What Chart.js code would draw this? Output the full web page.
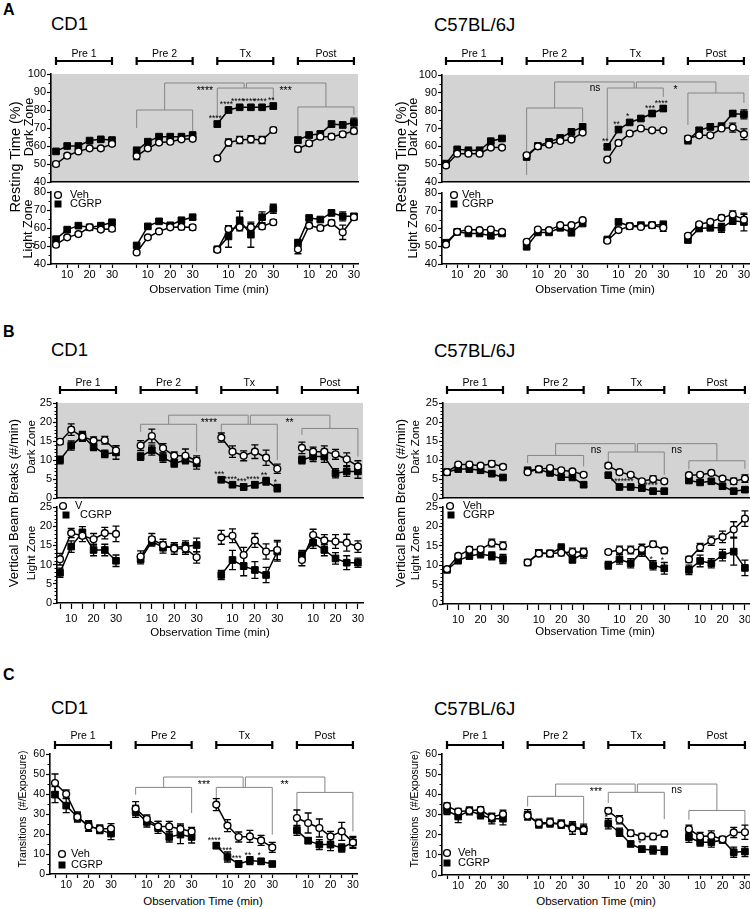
<!DOCTYPE html>
<html>
<head>
<meta charset="utf-8">
<script src="https://cdn.jsdelivr.net/npm/chart.js@4/dist/chart.umd.min.js"></script>
<style>
  body { margin: 0; background: #fff; }
  #page { position: relative; width: 750px; height: 909px; overflow: hidden; font-family: "Liberation Sans", Arial, sans-serif; }
  canvas { position: absolute; }
  .t { position: absolute; white-space: pre; color: #000; }
</style>
</head>
<body>
<div id="page"></div>
<script>
// ---- data ----
const minutes = [5, 10, 15, 20, 25, 30];
const groupNames = ["Pre 1", "Pre 2", "Tx", "Post"];
const xTickLabels = [10, 20, 30];

// A: resting time (%)
const aCd1DarkVeh  = [50, 54.6, 57, 58.7, 58.7, 61.2,  54.4, 58.7, 61.9, 62.4, 63.7, 64,  53.1, 61.9, 63.3, 63.7, 63.3, 68.9,  58.3, 61.5, 65.2, 65.2, 66.5, 68.3];
const aCd1DarkVehErr = [1, 1, 1, 1, 1, 1,  2, 1, 1, 1, 1, 1,  1, 2, 2, 2, 2, 1.5,  1.5, 1.5, 1.5, 1.5, 1.5, 1.5];
const aCd1DarkCgrp = [57, 60, 60, 63, 63.7, 63.3,  57.4, 62.4, 65.2, 65.2, 65.2, 66.1,  72.2, 80, 81.5, 81.5, 81.5, 82.2,  63.3, 66.1, 66.7, 72.2, 71.7, 73];
const aCd1DarkCgrpErr = [1, 1, 1, 1, 1, 1,  2, 1, 1, 1, 1, 1,  1.5, 1.5, 1, 1, 1, 1.5,  1.5, 1.5, 1.5, 1.5, 1.5, 2.5];

const aCd1LightVeh  = [50.7, 54.8, 56.6, 60.4, 59.1, 59.6,  46.4, 54.8, 58.1, 60.4, 60.6, 60.4,  47.9, 59.4, 60.4, 60.4, 60.9, 63.2,  48.2, 61.3, 60, 62.8, 57.6, 66];
const aCd1LightVehErr = [1, 1, 1, 1, 1, 1.5,  1, 1, 1, 1, 1.5, 1.5,  1, 1.5, 2, 2, 1.5, 1.5,  2.5, 1.5, 1.5, 1.5, 4, 1.5];
const aCd1LightCgrp = [53.8, 59.1, 61.3, 60.4, 61.3, 63.2,  50.3, 60.9, 63.7, 61.5, 64.3, 66,  48.2, 55.3, 64.3, 56.3, 66, 70.7,  51.6, 65.6, 64.7, 68.4, 66.5, 66.5];
const aCd1LightCgrpErr = [1, 1, 1, 1, 1, 1,  1, 1, 1, 1, 1, 1,  1, 6, 5, 7, 3, 2.5,  2, 1, 1, 1.5, 2.5, 1.5];

const aB6DarkVeh  = [49.3, 55.9, 55.9, 55.9, 59.3, 59.3,  55, 60, 61, 63, 63.8, 67.7,  52.5, 61.9, 67.2, 70, 69, 69,  64.4, 66.2, 66.2, 70, 70.5, 66.8];
const aB6DarkVehErr = [1, 1, 1, 1, 1, 1,  1, 1, 1, 1, 1, 1,  1, 1, 1, 1, 1, 1,  1.5, 1, 1, 1, 2.5, 3];
const aB6DarkCgrp = [50.3, 58.3, 57.8, 57.8, 62.9, 64.4,  54, 60.2, 62.5, 64.7, 68.1, 70.9,  59.7, 69.4, 73.4, 75.6, 78.4, 81.2,  63.4, 69, 70.9, 71.3, 78.4, 77.9];
const aB6DarkCgrpErr = [1, 1, 1, 1, 1, 1,  1, 1, 1, 1, 1.5, 1.5,  1, 1.5, 1, 1, 1.5, 1.5,  2, 1.5, 1.5, 1.5, 1.5, 2.5];

const aB6LightVeh  = [51, 58.1, 59.4, 59.1, 59.4, 58.1,  52.5, 59.4, 59.1, 61.9, 61.9, 64.7,  53.1, 59.1, 61.3, 60.9, 61.9, 60.4,  55.9, 62.4, 63.7, 66, 67.9, 65];
const aB6LightVehErr = [1, 1, 1, 1, 1, 1,  1, 1, 1, 1, 1, 1,  1, 1, 1, 1, 1, 2,  1, 1, 1, 1.5, 2, 3];
const aB6LightCgrp = [52, 58.1, 57.2, 57.2, 55.9, 57.2,  49.7, 57.8, 57.8, 60.4, 57.8, 62.8,  53.8, 63.7, 61.3, 61.9, 61.9, 62.2,  53.5, 60, 60.4, 60.4, 64.3, 63.7];
const aB6LightCgrpErr = [1, 1, 1, 1, 1, 1,  1, 1, 1, 1, 2, 1,  1, 1, 1, 1, 1, 2,  1, 1.5, 1.5, 2.5, 2, 5];

// B: vertical beam breaks (#/min)
const bCd1DarkVeh  = [14.8, 18, 16.1, 15.1, 15.2, 12.5,  13.8, 16.3, 13.1, 11.1, 11.1, 9.8,  15.9, 12.2, 11.1, 12.2, 10.6, 7.7,  13.2, 12.2, 12.2, 11.5, 10.2, 8.3];
const bCd1DarkVehErr = [0.7, 1.5, 1.2, 1, 1, 1.2,  1.3, 1.8, 1.2, 1, 1.8, 1.3,  1.2, 1.5, 1.3, 1.8, 2, 1.2,  1.5, 1.2, 1.5, 1.3, 1.7, 1.5];
const bCd1DarkCgrp = [10, 13.8, 16.3, 13.5, 11.6, 12,  10.9, 12.6, 10.6, 9.1, 10, 9.1,  4.8, 3.5, 2.9, 3.5, 4.4, 2.6,  10, 10.9, 10.9, 6.5, 7, 7];
const bCd1DarkCgrpErr = [1, 1.2, 1.2, 1, 1, 1.8,  1, 1.3, 1.2, 1, 1, 1.5,  0.5, 0.5, 0.8, 0.8, 1, 1,  1, 1.3, 1.5, 1.2, 1.3, 1.8];

const bCd1LightVeh  = [11.4, 18.2, 17.5, 16.6, 18.2, 18,  12.1, 16.6, 15.1, 14.2, 14.2, 11.9,  17.1, 17.5, 12.5, 16.3, 13.4, 13.8,  11.2, 17.7, 16.3, 16, 15.7, 14.7];
const bCd1LightVehErr = [1.5, 1.2, 1.5, 1.5, 1.5, 2,  1.5, 1.5, 1.5, 1.5, 1.5, 1.5,  1.8, 1.8, 2, 1.8, 2, 2.5,  1.5, 1.5, 1.5, 1.8, 2.2, 1.5];
const bCd1LightCgrp = [7.9, 14.7, 18.4, 13.8, 13.8, 11,  11.4, 16, 14.5, 14.5, 14.7, 15.1,  7.3, 11.2, 9.6, 8.6, 7.3, 13.4,  12.5, 15.7, 13.8, 11.6, 10.5, 10.5];
const bCd1LightCgrpErr = [1.2, 1.5, 1.5, 1.5, 1.5, 1.5,  1.2, 1.2, 1.5, 1.2, 1.5, 1.8,  1.2, 2.5, 2.5, 2.2, 2, 2.5,  1.2, 1.5, 1.5, 1.5, 1.8, 1.2];

const bB6DarkVeh  = [6.8, 8.8, 8.8, 8.5, 9, 8.2,  6.8, 7.6, 7.9, 7.3, 7, 6.1,  8.5, 6.8, 6.1, 4.4, 5, 4.4,  6, 6.1, 6.6, 5.1, 4.4, 5.1];
const bB6DarkVehErr = [0.5, 0.5, 0.6, 0.5, 0.8, 0.6,  0.5, 0.5, 0.5, 0.5, 0.5, 0.5,  0.6, 0.5, 0.5, 0.5, 0.8, 0.6,  0.5, 0.5, 0.5, 0.5, 0.8, 1];
const bB6DarkCgrp = [6.8, 7.6, 7.6, 7.3, 6.4, 5.4,  7.3, 7.5, 6.6, 5.5, 5.4, 3.5,  6, 2.9, 2.9, 2.6, 1.8, 1.8,  4.6, 4.1, 4.4, 3.1, 1.8, 2.2];
const bB6DarkCgrpErr = [0.5, 0.5, 0.5, 0.5, 0.5, 0.5,  0.5, 0.5, 0.5, 0.5, 0.5, 0.5,  0.5, 0.5, 0.5, 0.5, 0.5, 0.5,  0.5, 0.5, 0.5, 0.5, 0.5, 0.5];

const bB6LightVeh  = [9, 12.4, 14, 14.1, 15.7, 15,  10.7, 13, 13, 13.2, 13.4, 13.4,  13.4, 13.9, 13.9, 14.2, 15.4, 13.8,  11.5, 14.6, 16.3, 17.3, 19.2, 22];
const bB6LightVehErr = [0.5, 0.6, 0.8, 0.6, 1, 1,  0.6, 0.8, 0.8, 0.8, 1, 1,  0.5, 1, 1, 1.2, 0.8, 0.8,  0.8, 1, 1.2, 1.5, 2, 2];
const bB6LightCgrp = [8.8, 11.2, 12.4, 12.9, 12.4, 11.6,  10.7, 13.2, 13, 14.5, 11.4, 13,  10, 11.5, 10.5, 13.5, 10, 9.2,  8.8, 11.1, 10.5, 12.6, 13.5, 9.3];
const bB6LightCgrpErr = [0.6, 0.8, 0.8, 1, 1, 1.2,  0.6, 0.8, 0.8, 1, 0.8, 1.2,  1, 1.2, 1.2, 1.2, 1.2, 1.5,  1.2, 1.5, 1.2, 1.5, 3.5, 2];

// C: transitions (#/exposure)
const cCd1Veh  = [45.5, 40, 28.5, 23.8, 22.5, 22.7,  32.7, 27.5, 23.8, 23.8, 22.5, 21.3,  34.7, 24.2, 18.5, 18.8, 16.8, 13.3,  28, 25.5, 23, 18.8, 21.3, 15.8];
const cCd1VehErr = [4.5, 2, 2, 2.5, 2, 2.5,  3.5, 2, 2.5, 2.5, 2.5, 2,  3, 3, 2.5, 3, 2.5, 2.5,  4, 5, 4.5, 2.5, 4.5, 3];
const cCd1Cgrp = [39.7, 34.2, 28.5, 24.2, 22.2, 20.2,  31.3, 26, 23.3, 18.5, 19.7, 18.5,  14.2, 8.5, 5, 6.7, 6.3, 5,  21.8, 16.7, 14.7, 14.7, 13, 15.8];
const cCd1CgrpErr = [4, 3.5, 2.5, 2.5, 2, 3,  3, 2.5, 3, 2.5, 4.5, 3,  1.5, 2.5, 1.5, 2, 1.5, 0.8,  2.5, 1.5, 2.5, 3, 2, 2.5];

const cB6Veh  = [34.3, 31.5, 31.8, 32.3, 28.7, 30.2,  29.4, 25.7, 26.2, 25.2, 23.2, 22.4,  31.8, 27.4, 20.7, 19.1, 19.1, 20.4,  22.7, 19.1, 19.4, 17.7, 21.1, 21.2];
const cB6VehErr = [1.5, 1.5, 1.5, 1.5, 2, 2,  2, 2, 2, 2, 3, 2,  1.5, 2, 1.5, 1.5, 1.5, 1.5,  2, 2, 2.5, 1.5, 2.5, 3.5];
const cB6Cgrp = [32, 29, 31.8, 29.9, 27.9, 27.9,  29.9, 25.2, 25.7, 25.2, 24, 22.7,  25.4, 21.2, 15.4, 12.8, 12.4, 12.1,  18.7, 16.3, 16.3, 17.4, 11.3, 11.6];
const cB6CgrpErr = [2, 3, 2, 2, 2.5, 3,  2.5, 2, 2, 2, 2.5, 2.5,  2.5, 2, 1, 1.5, 2, 2,  2.5, 2, 2.5, 1.5, 2.5, 2.5];

// significance marks on the Tx CGRP points
const aCd1Stars = ["****", "****", "****", "****", "****", "**"];
const aB6Stars = ["**", "**", "*", "", "***", "****"];
const bCd1Stars = ["***", "****", "***", "****", "**", "*"];
const bB6Stars = ["", "****", "***", "", "****", ""];
const bB6LightStars = ["", "", "", "", "*", "*"];
const cCd1Stars = ["****", "****", "***", "**", "*", ""];
const cB6Stars = ["*", "", "", "*", "", ""];

// ---- drawing ----
const GROUP_GAP = 36;   // x units between group starts
const K = 2.24;         // px per minute
const FONT = '"Liberation Sans", Arial, sans-serif';
Chart.defaults.font.family = FONT;
Chart.defaults.color = "#000";

const page = document.getElementById("page");

function text(str, x, y, size, opt) {
  opt = opt || {};
  const d = document.createElement("div");
  d.className = "t";
  d.textContent = str;
  d.style.fontSize = size + "px";
  d.style.lineHeight = size + "px";
  d.style.left = x + "px";
  d.style.top = y + "px";
  if (opt.bold) d.style.fontWeight = "bold";
  if (opt.rot) d.style.transform = "translate(-50%,-50%) rotate(-90deg)";
  else if (opt.left) d.style.transform = "translate(0,-50%)";
  else d.style.transform = "translate(-50%,-50%)";
  page.appendChild(d);
}

function series(vals, errs, g, filled) {
  return {
    data: minutes.map((t, i) => ({ x: g * GROUP_GAP + t, y: vals[g * 6 + i], e: errs[g * 6 + i] })),
    showLine: true,
    borderColor: "#000",
    borderWidth: 1.5,
    pointStyle: filled ? "rect" : "circle",
    pointRadius: filled ? 4.7 : 3.4,
    pointBackgroundColor: filled ? "#000" : "#fff",
    pointBorderColor: "#000",
    pointBorderWidth: filled ? 1 : 1.4,
    order: filled ? 1 : 0
  };
}

function panel(cfg) {
  const [x0, y0, x1, y1] = cfg.area;
  const padL = 40, padR = 12, padT = cfg.padT, padB = cfg.padB;
  const W = x1 - x0 + padL + padR, H = y1 - y0 + padT + padB;
  const cv = document.createElement("canvas");
  cv.width = W; cv.height = H;
  cv.style.left = (x0 - padL) + "px";
  cv.style.top = (y0 - padT) + "px";
  cv.style.width = W + "px";
  cv.style.height = H + "px";
  page.appendChild(cv);

  const xMin = 5 - (cfg.p5 - x0) / K;
  const xMax = xMin + (x1 - x0) / K;
  const datasets = [];
  for (let g = 0; g < 4; g++) {
    datasets.push(series(cfg.veh, cfg.vehErr, g, false));
    datasets.push(series(cfg.cgrp, cfg.cgrpErr, g, true));
  }
  const xTicks = [];
  for (let g = 0; g < 4; g++) minutes.forEach(t => xTicks.push(g * GROUP_GAP + t));

  const extras = {
    id: "extras",
    beforeDraw(chart) {
      if (!cfg.gray) return;
      const a = chart.chartArea, ctx = chart.ctx;
      ctx.save();
      ctx.fillStyle = "#d3d3d3";
      ctx.fillRect(a.left, a.top, a.right - a.left, a.bottom - a.top);
      ctx.restore();
    },
    beforeDatasetsDraw(chart) {
      const ctx = chart.ctx, xs = chart.scales.x, ys = chart.scales.y;
      const X = u => xs.getPixelForValue(u), Y = v => ys.getPixelForValue(v);
      // brackets
      const b = cfg.brackets;
      if (b) {
        ctx.save();
        ctx.strokeStyle = "#858585";
        ctx.lineWidth = 1;
        const seg = (xa, xb, top, lb, rb) => {
          ctx.beginPath();
          ctx.moveTo(X(xa), Y(lb)); ctx.lineTo(X(xa), Y(top));
          ctx.lineTo(X(xb), Y(top)); ctx.lineTo(X(xb), Y(rb));
          ctx.stroke();
        };
        [b.pre2, b.tx, b.post].forEach((s, i) => {
          const g = i + 1;
          seg(g * GROUP_GAP + 5, g * GROUP_GAP + 30, s[0], s[1], s[2]);
        });
        const mid = g => g * GROUP_GAP + 17.5;
        seg(mid(1), mid(2) - 0.5, b.top, b.pre2[0], b.tx[0]);
        seg(mid(2) + 0.5, mid(3), b.top, b.tx[0], b.post[0]);
        ctx.fillStyle = "#000";
        ctx.textAlign = "center";
        ctx.textBaseline = "alphabetic";
        [[mid(1), mid(2)], [mid(2), mid(3)]].forEach((m, i) => {
          const lab = b.labels[i];
          const star = lab.indexOf("*") >= 0;
          ctx.font = (star ? "10.5px " : "10px ") + FONT;
          ctx.fillText(lab, (X(m[0]) + X(m[1])) / 2, Y(b.top) + (star ? 11 : 9));
        });
        ctx.restore();
      }
      // error bars
      ctx.save();
      ctx.strokeStyle = "#000";
      ctx.lineWidth = 1.3;
      chart.data.datasets.forEach(ds => {
        ds.data.forEach(p => {
          const px = X(p.x), pt = Y(p.y + p.e), pb = Y(p.y - p.e);
          ctx.beginPath();
          ctx.moveTo(px, pt); ctx.lineTo(px, pb);
          ctx.moveTo(px - 3.5, pt); ctx.lineTo(px + 3.5, pt);
          ctx.moveTo(px - 3.5, pb); ctx.lineTo(px + 3.5, pb);
          ctx.stroke();
        });
      });
      ctx.restore();
    },
    afterDatasetsDraw(chart) {
      if (!cfg.stars) return;
      const ctx = chart.ctx, xs = chart.scales.x, ys = chart.scales.y;
      ctx.save();
      ctx.fillStyle = "#000";
      ctx.font = "8.5px " + FONT;
      ctx.textAlign = "center";
      ctx.textBaseline = "alphabetic";
      cfg.stars.forEach((s, i) => {
        if (!s) return;
        const k = 2 * 6 + i;
        const py = Math.min(ys.getPixelForValue(cfg.cgrp[k] + cfg.cgrpErr[k]), ys.getPixelForValue(cfg.cgrp[k]) - 4);
        ctx.fillText(s, xs.getPixelForValue(2 * GROUP_GAP + minutes[i]) - 2, py + 1);
      });
      ctx.restore();
    },
    afterDraw(chart) {
      const ctx = chart.ctx, a = chart.chartArea, xs = chart.scales.x, ys = chart.scales.y;
      ctx.save();
      // minor y ticks
      ctx.strokeStyle = "#000";
      ctx.lineWidth = 1;
      ctx.beginPath();
      for (let v = cfg.yMin; v <= cfg.yMax + 1e-9; v += cfg.yMinor) {
        const r = v / cfg.yStep;
        if (Math.abs(r - Math.round(r)) < 1e-6) continue;
        const py = Math.round(ys.getPixelForValue(v)) + 0.5;
        ctx.moveTo(a.left - 2.5, py); ctx.lineTo(a.left, py);
      }
      ctx.stroke();
      // group bars
      if (cfg.bars) {
        const by = a.top - cfg.bars.off;
        ctx.lineWidth = 2.2;
        ctx.font = "10.5px " + FONT;
        ctx.textAlign = "center";
        ctx.textBaseline = "middle";
        ctx.fillStyle = "#000";
        groupNames.forEach((name, g) => {
          const xa = xs.getPixelForValue(g * GROUP_GAP + 5), xb = xs.getPixelForValue(g * GROUP_GAP + 30);
          ctx.beginPath();
          ctx.moveTo(xa, by); ctx.lineTo(xb, by);
          ctx.moveTo(xa, by - 4); ctx.lineTo(xa, by + 4);
          ctx.moveTo(xb, by - 4); ctx.lineTo(xb, by + 4);
          ctx.stroke();
          ctx.fillText(name, (xa + xb) / 2, by - cfg.bars.lab);
        });
      }
      // legend
      if (cfg.legend) {
        ctx.font = "11px " + FONT;
        ctx.textAlign = "left";
        ctx.textBaseline = "middle";
        cfg.legend.forEach(it => {
          const cx = a.left + it.x, cy = a.top + it.y;
          if (it.shape === "circle") {
            ctx.beginPath();
            ctx.arc(cx, cy, 3.4, 0, Math.PI * 2);
            ctx.fillStyle = "#fff"; ctx.fill();
            ctx.lineWidth = 1.4; ctx.strokeStyle = "#000"; ctx.stroke();
          } else {
            ctx.fillStyle = "#000";
            ctx.fillRect(cx - 3.5, cy - 3.5, 7, 7);
          }
          ctx.fillStyle = "#000";
          ctx.fillText(it.text, a.left + it.tx, cy);
        });
      }
      ctx.restore();
    }
  };

  new Chart(cv, {
    type: "scatter",
    data: { datasets },
    options: {
      responsive: false,
      animation: false,
      events: [],
      layout: { padding: { top: padT, right: padR, left: 0, bottom: 0 } },
      plugins: { legend: { display: false }, tooltip: { enabled: false } },
      scales: {
        x: {
          type: "linear",
          min: xMin,
          max: xMax,
          afterBuildTicks: s => { s.ticks = xTicks.map(v => ({ value: v })); },
          afterFit: s => { s.height = padB; },
          ticks: {
            display: cfg.xLabels,
            autoSkip: false,
            maxRotation: 0,
            padding: cfg.xPad || 0,
            font: { size: cfg.tickFont || 11 },
            callback: v => {
              const g = Math.floor(v / GROUP_GAP);
              const t = Math.round(v - g * GROUP_GAP);
              return xTickLabels.includes(t) ? String(t) : "";
            }
          },
          grid: { drawOnChartArea: false, drawTicks: cfg.xLabels, tickLength: cfg.xTickLen || 4, tickColor: "#000", tickWidth: 1.2 },
          border: { color: "#000", width: 1.6 }
        },
        y: {
          min: cfg.yMin,
          max: cfg.yMax,
          afterFit: s => { s.width = padL; },
          ticks: { stepSize: cfg.yStep, padding: 1, font: { size: cfg.tickFont || 11 } },
          grid: { drawOnChartArea: false, tickLength: 4, tickColor: "#000", tickWidth: 1.2 },
          border: { color: "#000", width: 1.6 }
        }
      }
    },
    plugins: [extras]
  });
}

// ---- panel A ----
panel({
  area: [51, 74, 358, 182], p5: 56, padT: 30, padB: 8, gray: true, xLabels: false,
  yMin: 40, yMax: 100, yStep: 10, yMinor: 5,
  veh: aCd1DarkVeh, vehErr: aCd1DarkVehErr, cgrp: aCd1DarkCgrp, cgrpErr: aCd1DarkCgrpErr,
  bars: { off: 13, lab: 7 },
  brackets: { top: 95, pre2: [80, 70, 67.8], tx: [92.2, 76.1, 85.6], post: [81.7, 63.3, 77.2], labels: ["****", "***"] },
  stars: aCd1Stars
});
panel({
  area: [51, 192, 358, 264], p5: 56, padT: 9, padB: 18, xLabels: true, xPad: 0,
  yMin: 40, yMax: 80, yStep: 10, yMinor: 5,
  veh: aCd1LightVeh, vehErr: aCd1LightVehErr, cgrp: aCd1LightCgrp, cgrpErr: aCd1LightCgrpErr,
  legend: [{ shape: "circle", x: 7, y: 3, text: "Veh", tx: 19 }, { shape: "rect", x: 7, y: 12, text: "CGRP", tx: 19 }]
});
panel({
  area: [442, 75, 749, 182], p5: 446, padT: 30, padB: 8, gray: true, xLabels: false,
  yMin: 40, yMax: 100, yStep: 10, yMinor: 5,
  veh: aB6DarkVeh, vehErr: aB6DarkVehErr, cgrp: aB6DarkCgrp, cgrpErr: aB6DarkCgrpErr,
  bars: { off: 14, lab: 7 },
  brackets: { top: 96.1, pre2: [81.5, 43.9, 73.6], tx: [92.7, 63.5, 87.7], post: [89.9, 72, 84.3], labels: ["ns", "*"] },
  stars: aB6Stars
});
panel({
  area: [442, 193, 749, 264], p5: 446, padT: 9, padB: 18, xLabels: true, xPad: 0,
  yMin: 40, yMax: 80, yStep: 10, yMinor: 5,
  veh: aB6LightVeh, vehErr: aB6LightVehErr, cgrp: aB6LightCgrp, cgrpErr: aB6LightCgrpErr,
  legend: [{ shape: "circle", x: 12, y: 2, text: "Veh", tx: 20 }, { shape: "rect", x: 12, y: 11, text: "CGRP", tx: 20 }]
});

// ---- panel B ----
panel({
  area: [57, 403, 363, 498], p5: 60, padT: 30, padB: 8, gray: true, xLabels: false,
  yMin: 0, yMax: 25, yStep: 5, yMinor: 1,
  veh: bCd1DarkVeh, vehErr: bCd1DarkVehErr, cgrp: bCd1DarkCgrp, cgrpErr: bCd1DarkCgrpErr,
  bars: { off: 13, lab: 7 },
  brackets: { top: 21.8, pre2: [19.4, 17.4, 12.2], tx: [19.4, 17.4, 10], post: [18.3, 16.6, 10.9], labels: ["****", "**"] },
  stars: bCd1Stars
});
panel({
  area: [57, 507, 363, 603], p5: 60, padT: 9, padB: 22, xLabels: true, xPad: 3, xTickLen: 6,
  yMin: 0, yMax: 25, yStep: 5, yMinor: 1,
  veh: bCd1LightVeh, vehErr: bCd1LightVehErr, cgrp: bCd1LightCgrp, cgrpErr: bCd1LightCgrpErr,
  legend: [{ shape: "circle", x: 6, y: -1, text: "V", tx: 18 }, { shape: "rect", x: 9, y: 8, text: "CGRP", tx: 23 }]
});
panel({
  area: [443, 403, 749, 498], p5: 447, padT: 30, padB: 8, gray: true, xLabels: false,
  yMin: 0, yMax: 25, yStep: 5, yMinor: 1,
  veh: bB6DarkVeh, vehErr: bB6DarkVehErr, cgrp: bB6DarkCgrp, cgrpErr: bB6DarkCgrpErr,
  bars: { off: 13, lab: 7 },
  brackets: { top: 14.3, pre2: [11.2, 9.2, 8.3], tx: [12.1, 9.2, 6.1], post: [9.8, 7.5, 7.7], labels: ["ns", "ns"] },
  stars: bB6Stars
});
panel({
  area: [443, 507, 749, 604], p5: 447, padT: 9, padB: 22, xLabels: true, xPad: 3, xTickLen: 6,
  yMin: 0, yMax: 25, yStep: 5, yMinor: 1,
  veh: bB6LightVeh, vehErr: bB6LightVehErr, cgrp: bB6LightCgrp, cgrpErr: bB6LightCgrpErr,
  legend: [{ shape: "circle", x: 7, y: -1, text: "Veh", tx: 20 }, { shape: "rect", x: 8, y: 8, text: "CGRP", tx: 20 }],
  stars: bB6LightStars
});

// ---- panel C ----
panel({
  area: [50, 754, 357, 874], p5: 55, padT: 28, padB: 20, xLabels: true, xPad: 1, tickFont: 10.5,
  yMin: 0, yMax: 60, yStep: 10, yMinor: 5,
  veh: cCd1Veh, vehErr: cCd1VehErr, cgrp: cCd1Cgrp, cgrpErr: cCd1CgrpErr,
  bars: { off: 9, lab: 9 },
  brackets: { top: 48.5, pre2: [43.3, 39.7, 30.5], tx: [43.3, 38, 19.7], post: [40.8, 30.5, 21.3], labels: ["***", "**"] },
  stars: cCd1Stars,
  legend: [{ shape: "circle", x: 12, y: 100, text: "Veh", tx: 21 }, { shape: "rect", x: 12, y: 111, text: "CGRP", tx: 21 }]
});
panel({
  area: [442, 754, 749, 875], p5: 447, padT: 28, padB: 20, xLabels: true, xPad: 1, tickFont: 10.5,
  yMin: 0, yMax: 60, yStep: 10, yMinor: 5,
  veh: cB6Veh, vehErr: cB6VehErr, cgrp: cB6Cgrp, cgrpErr: cB6CgrpErr,
  bars: { off: 9, lab: 9 },
  brackets: { top: 45.1, pre2: [39, 34, 24], tx: [41, 35.7, 27.7], post: [32, 27.4, 24.9], labels: ["***", "ns"] },
  stars: cB6Stars,
  legend: [{ shape: "circle", x: 5, y: 99, text: "Veh", tx: 16 }, { shape: "rect", x: 5, y: 109, text: "CGRP", tx: 16 }]
});

// ---- page text ----
text("A", 3, 10, 16, { left: true, bold: true });
text("B", 3, 332, 16, { left: true, bold: true });
text("C", 3, 675, 16, { left: true, bold: true });
[24, 350, 708].forEach(y => {
  text("CD1", 51, y, 18.5, { left: true });
  text("C57BL/6J", 434, y + 1, 18.5, { left: true });
});

text("Resting Time (%)", 15, 157, 14.5, { rot: true });
text("Resting Time (%)", 401, 157, 14.5, { rot: true });
text("Dark Zone", 29, 127, 12.5, { rot: true });
text("Dark Zone", 413, 127, 12.5, { rot: true });
text("Light Zone", 28, 229, 12.5, { rot: true });
text("Light Zone", 413, 229, 12.5, { rot: true });

text("Vertical Beam Breaks (#/min)", 13, 503, 13, { rot: true });
text("Vertical Beam Breaks (#/min)", 400, 503, 13, { rot: true });
text("Dark Zone", 32, 447, 11.5, { rot: true });
text("Dark Zone", 416, 447, 11.5, { rot: true });
text("Light Zone", 32, 553, 11.5, { rot: true });
text("Light Zone", 416, 553, 11.5, { rot: true });

text("Transitions  (#/Exposure)", 22, 809, 10.5, { rot: true });
text("Transitions  (#/Exposure)", 414, 809, 10.5, { rot: true });

text("Observation Time (min)", 209, 290, 11.5);
text("Observation Time (min)", 595, 290, 11.5);
text("Observation Time (min)", 210, 633, 11.5);
text("Observation Time (min)", 595, 632, 11.5);
text("Observation Time (min)", 203, 902, 11.5);
text("Observation Time (min)", 596, 902, 11.5);
</script>
</body>
</html>
